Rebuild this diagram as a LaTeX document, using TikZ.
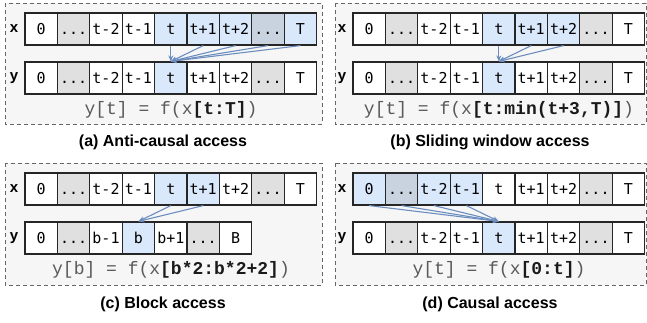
\documentclass[tikz,border=0pt]{standalone}
\usepackage{fontspec}
\usetikzlibrary{arrows.meta}
\newfontfamily\cellfont{DejaVu Sans Mono}
\newfontfamily\codefont{Liberation Mono}
\newfontfamily\labfont{Liberation Sans}
\definecolor{cellblue}{HTML}{DAE8FC}
\definecolor{cellgrey}{HTML}{E0E0E0}
\definecolor{cellbg}{HTML}{C9D3E0}
\definecolor{arrowblue}{HTML}{6C8EBF}
\definecolor{panelfill}{HTML}{F6F6F6}
\definecolor{paneledge}{HTML}{666666}
\definecolor{codegrey}{HTML}{5A5A5A}
\definecolor{codedark}{HTML}{1A1A1A}
\tikzset{
  cell/.style={draw=black!85, line width=1.2pt, minimum width=32.4pt,
    minimum height=32pt, inner sep=0pt, fill=white,
    text height=11pt, text depth=0pt,
    font=\cellfont\fontsize{15}{18}\selectfont},
  cw/.style={},
  cg/.style={fill=cellgrey},
  cb/.style={fill=cellblue},
  cbg/.style={fill=cellbg},
  panel/.style={draw=paneledge, fill=panelfill, line width=0.9pt,
    dash pattern=on 4pt off 3pt},
  rowlab/.style={font=\labfont\bfseries\fontsize{15}{18}\selectfont, inner sep=0pt},
  formula/.style={font=\codefont\fontsize{18}{21}\selectfont, text=codegrey, inner sep=0pt},
  caption/.style={font=\labfont\bfseries\fontsize{16}{19}\selectfont, inner sep=0pt},
  access/.style={draw=arrowblue, line width=1.1pt,
    -{Stealth[length=6pt,width=5pt]}},
}
\newcommand\hl[1]{\textbf{\color{codedark}#1}}
% ellipsis cell text: three separate full stops (a macro, so \foreach does not read a range)
\newcommand\gap{.\kern0pt.\kern0pt.}
\begin{document}
\begin{tikzpicture}[x=1pt,y=-1pt]
\useasboundingbox (0,0) rectangle (647,322);

% panel frames
\draw[panel] (5,3) rectangle (322,124);
\draw[panel] (335,3) rectangle (646,124);
\draw[panel] (5,163) rectangle (322,285);
\draw[panel] (335,163) rectangle (646,285);

% ---------- (a) anti-causal ----------
\foreach \lab/\sty [count=\i from 0] in {0/cw,\gap/cg,t-2/cw,t-1/cw,t/cb,t+1/cb,t+2/cb,\gap/cbg,T/cb}
  \node[cell,\sty] (ax\i) at (25+32.4*\i+16.2,29) {\lab};
\foreach \lab/\sty [count=\i from 0] in {0/cw,\gap/cg,t-2/cw,t-1/cw,t/cb,t+1/cw,t+2/cw,\gap/cg,T/cw}
  \node[cell,\sty] (ay\i) at (25+32.4*\i+16.2,78) {\lab};
\node[rowlab] (axl) at (14,29) {x};
\node[rowlab] (ayl) at (14,78) {y};
\foreach \i in {4,5,6,7,8} \draw[access] (ax\i.south) -- (ay4.north);
\node[formula] (af) at (171,110) {y[t] = f(x\hl{[t:T]})};
\node[caption] (ac) at (163,142) {(a) Anti-causal access};

% ---------- (b) sliding window ----------
\foreach \lab/\sty [count=\i from 0] in {0/cw,\gap/cg,t-2/cw,t-1/cw,t/cb,t+1/cb,t+2/cb,\gap/cg,T/cw}
  \node[cell,\sty] (bx\i) at (353+32.4*\i+16.2,29) {\lab};
\foreach \lab/\sty [count=\i from 0] in {0/cw,\gap/cg,t-2/cw,t-1/cw,t/cb,t+1/cw,t+2/cw,\gap/cg,T/cw}
  \node[cell,\sty] (by\i) at (353+32.4*\i+16.2,78) {\lab};
\node[rowlab] (bxl) at (342,29) {x};
\node[rowlab] (byl) at (342,78) {y};
\foreach \i in {4,5,6} \draw[access] (bx\i.south) -- (by4.north);
\node[formula] (bf) at (499,110) {y[t] = f(x\hl{[t:min(t+3,T)]})};
\node[caption] (bc) at (490,142) {(b) Sliding window access};

% ---------- (c) block ----------
\foreach \lab/\sty [count=\i from 0] in {0/cw,\gap/cg,t-2/cw,t-1/cw,t/cb,t+1/cb,t+2/cw,\gap/cg,T/cw}
  \node[cell,\sty] (cx\i) at (25+32.4*\i+16.2,189) {\lab};
\foreach \lab/\sty [count=\i from 0] in {0/cw,\gap/cg,b-1/cw,b/cb,b+1/cw,\gap/cg,B/cw}
  \node[cell,\sty] (cy\i) at (25+32.4*\i+16.2,238) {\lab};
\node[rowlab] (cxl) at (14,189) {x};
\node[rowlab] (cyl) at (14,238) {y};
\foreach \i in {4,5} \draw[access] (cx\i.south) -- (cy3.north);
\node[formula] (cf) at (171,270) {y[b] = f(x\hl{[b*2:b*2+2]})};
\node[caption] (cc) at (163,304) {(c) Block access};

% ---------- (d) causal ----------
\foreach \lab/\sty [count=\i from 0] in {0/cb,\gap/cbg,t-2/cb,t-1/cb,t/cw,t+1/cw,t+2/cw,\gap/cg,T/cw}
  \node[cell,\sty] (dx\i) at (353+32.4*\i+16.2,189) {\lab};
\foreach \lab/\sty [count=\i from 0] in {0/cw,\gap/cg,t-2/cw,t-1/cw,t/cb,t+1/cw,t+2/cw,\gap/cg,T/cw}
  \node[cell,\sty] (dy\i) at (353+32.4*\i+16.2,238) {\lab};
\node[rowlab] (dxl) at (342,189) {x};
\node[rowlab] (dyl) at (342,238) {y};
\foreach \i in {0,1,2,3} \draw[access] (dx\i.south) -- (dy4.north);
\node[formula] (df) at (499,270) {y[t] = f(x\hl{[0:t]})};
\node[caption] (dc) at (490,304) {(d) Causal access};
\end{tikzpicture}
\end{document}
